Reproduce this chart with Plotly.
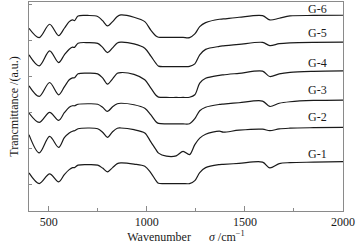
import plotly.graph_objects as go

wavenumber = [400, 452, 505, 551, 580, 605, 622, 632, 650, 700, 750, 775, 800, 826, 850, 868,
              935, 990, 1020, 1047, 1060, 1100, 1150, 1185, 1218, 1245, 1270, 1300, 1370, 1390,
              1470, 1590, 1627, 1675, 1730, 1850, 2000]

g6 = [183.7, 174.3, 187.7, 176.3, 183.7, 190.3, 192, 191.3, 196, 196.5, 195.5, 191.3, 186, 190.3,
      195.5, 197, 194.7, 190.3, 182, 176, 174.7, 174.5, 174.5, 174.5, 174.3, 178, 185.3, 189.3,
      192.7, 193, 194.7, 196.3, 192, 193.7, 196, 196.5, 196.7]
g5 = [157, 146, 161, 149.3, 157, 162.7, 164.7, 164.5, 168.7, 169.3, 168.5, 164.5, 159.3, 164, 169,
      169.7, 168, 163.7, 156, 148.5, 145.7, 145.3, 145.3, 145.3, 145.5, 148, 157, 162.5, 165.5, 166,
      167.5, 169.5, 166.3, 168.2, 169, 169.5, 169.7]
g4 = [126, 115.3, 129.3, 117, 125, 132, 134, 134, 138, 138.7, 138, 134, 127.7, 133, 138.5, 139.3,
      137.5, 132, 124, 116.5, 114.7, 114.3, 114.3, 114.3, 114.5, 117, 128.7, 133.5, 136.5, 137,
      138.5, 140.7, 135.3, 138, 139.5, 140.5, 141]
g3 = [98.7, 89.3, 99.3, 91.3, 99, 104.5, 106, 106, 107.5, 108, 107.5, 104.5, 100.3, 105, 108, 108.5,
      107, 103.5, 97, 90, 88.3, 87.8, 87.8, 87.8, 88, 93, 101, 104.5, 107.3, 107.7, 109, 110.7,
      105.3, 108.5, 110, 111.3, 111.7]
g2 = [77, 58.7, 75.3, 64.3, 74, 78.7, 80.5, 81, 83, 83.7, 83, 79.5, 74.3, 80, 83.5, 83.7, 82, 78.7,
      70, 62, 58.5, 55.5, 55.8, 60.3, 57, 67, 73.5, 77.5, 80.5, 79.5, 81.5, 82.5, 81, 82.8, 83.5,
      84, 84.3]
g1 = [38.7, 28, 37.7, 29.7, 37, 42, 44, 44, 46.5, 47, 46.5, 43.5, 39.7, 44, 48, 48.7, 47.5, 45.3,
      39, 31, 28.3, 28, 28, 28, 28, 31, 39, 44, 47, 47.3, 48.2, 49.5, 43.7, 48, 49, 49.5, 50]

series_names = ["G-6", "G-5", "G-4", "G-3", "G-2", "G-1"]
series_values = [g6, g5, g4, g3, g2, g1]
label_y = [202.7, 178.7, 149.3, 121.3, 94.7, 58]
label_x = 1871

x_tickvals = [500, 1000, 1500, 2000]
x_ticktext = ["500", "1000", "1500", "2000"]

FONT = "Liberation Serif"
AX = "#8a8a8a"

fig = go.Figure()
for name, vals in zip(series_names, series_values):
    fig.add_trace(go.Scatter(x=wavenumber, y=vals, mode="lines", name=name,
                             line=dict(color="#1a1a1a", width=1.2, shape="spline", smoothing=0.9),
                             showlegend=False, hoverinfo="skip"))

for name, ly in zip(series_names, label_y):
    fig.add_annotation(x=label_x, y=ly, text=name, showarrow=False,
                       font=dict(family=FONT, size=12, color="#1a1a1a"),
                       xanchor="center", yanchor="middle")

fig.update_layout(
    width=363, height=245,
    margin=dict(l=29, r=19.5, t=2, b=33.5, autoexpand=False),
    paper_bgcolor="white", plot_bgcolor="white",
    font=dict(family=FONT, size=12, color="#1a1a1a"),
    xaxis=dict(range=[400, 2000], tickvals=x_tickvals, ticktext=x_ticktext,
               ticks="inside", ticklen=5, tickcolor=AX, showgrid=False, zeroline=False,
               showline=True, linecolor=AX, linewidth=1, mirror=True,
               tickfont=dict(family=FONT, size=12),
               minor=dict(dtick=250, ticks="inside", ticklen=3, tickcolor=AX),
               title=dict(text="Wavenumber\u00a0\u00a0\u00a0\u00a0\u00a0\u00a0<i>\u03c3</i> /cm<sup>\u22121</sup>",
                          font=dict(family=FONT, size=12), standoff=3)),
    yaxis=dict(range=[0.5, 210], tick0=27, dtick=36, showticklabels=False,
               ticks="inside", ticklen=3, tickcolor=AX, showgrid=False, zeroline=False,
               showline=True, linecolor=AX, linewidth=1, mirror=True,
               title=dict(text="Trancmittance /(a.u.)", font=dict(family=FONT, size=12), standoff=6)),
)

fig.write_html("out.html", config={"displayModeBar": False, "staticPlot": True},
               post_script="document.body.style.margin='0px';document.body.style.overflow='hidden';")
